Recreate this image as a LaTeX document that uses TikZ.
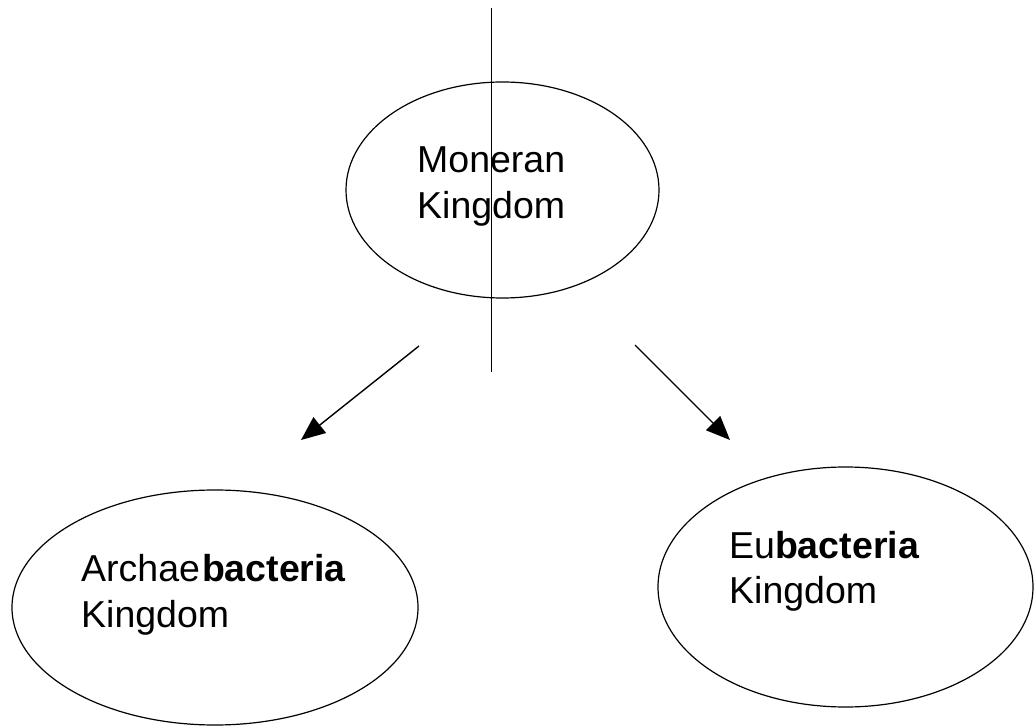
\documentclass[tikz,border=0pt]{standalone}
\usepackage{fontspec}
\setmainfont{Liberation Sans}
\usetikzlibrary{arrows.meta,shapes.geometric}
\begin{document}
\begin{tikzpicture}[x=1pt,y=-1pt,
  oval/.style={draw,ellipse,line width=1.2pt,inner sep=0pt},
  lbl/.style={anchor=base west,inner sep=0pt,font=\fontsize{37.5}{46}\selectfont},
  conn/.style={line width=1.4pt,-{Triangle[length=24pt,width=20pt]}},
  plain/.style={line width=1.4pt}]
\useasboundingbox (0,0) rectangle (1034,727);
% ellipses
\node[oval,minimum width=313pt,minimum height=216pt] (mon) at (502.5,190) {};
\node[oval,minimum width=406pt,minimum height=235pt] (arc) at (215,607.5) {};
\node[oval,minimum width=375pt,minimum height=240pt] (eub) at (845.5,587) {};
% texts
\node[lbl] (mon1) at (417,173) {Moneran};
\node[lbl] (mon2) at (417,219) {Kingdom};
\node[lbl] (arc1) at (81,581) {Archae\kern2pt\textbf{bacteria}};
\node[lbl] (arc2) at (81,627) {Kingdom};
\node[lbl] (eub1) at (729,558) {Eu\textbf{bacteria}};
\node[lbl] (eub2) at (729,603) {Kingdom};
% vertical line
\coordinate (vtop) at (491.5,8);
\coordinate (vbot) at (491.5,372);
\draw[plain] (vtop) -- (vbot);
% arrows
\coordinate (la) at (419,346);
\coordinate (lb) at (301,440);
\coordinate (ra) at (635,345);
\coordinate (rb) at (730,440);
\draw[conn] (la) -- (lb);
\draw[conn] (ra) -- (rb);
\end{tikzpicture}
\end{document}
